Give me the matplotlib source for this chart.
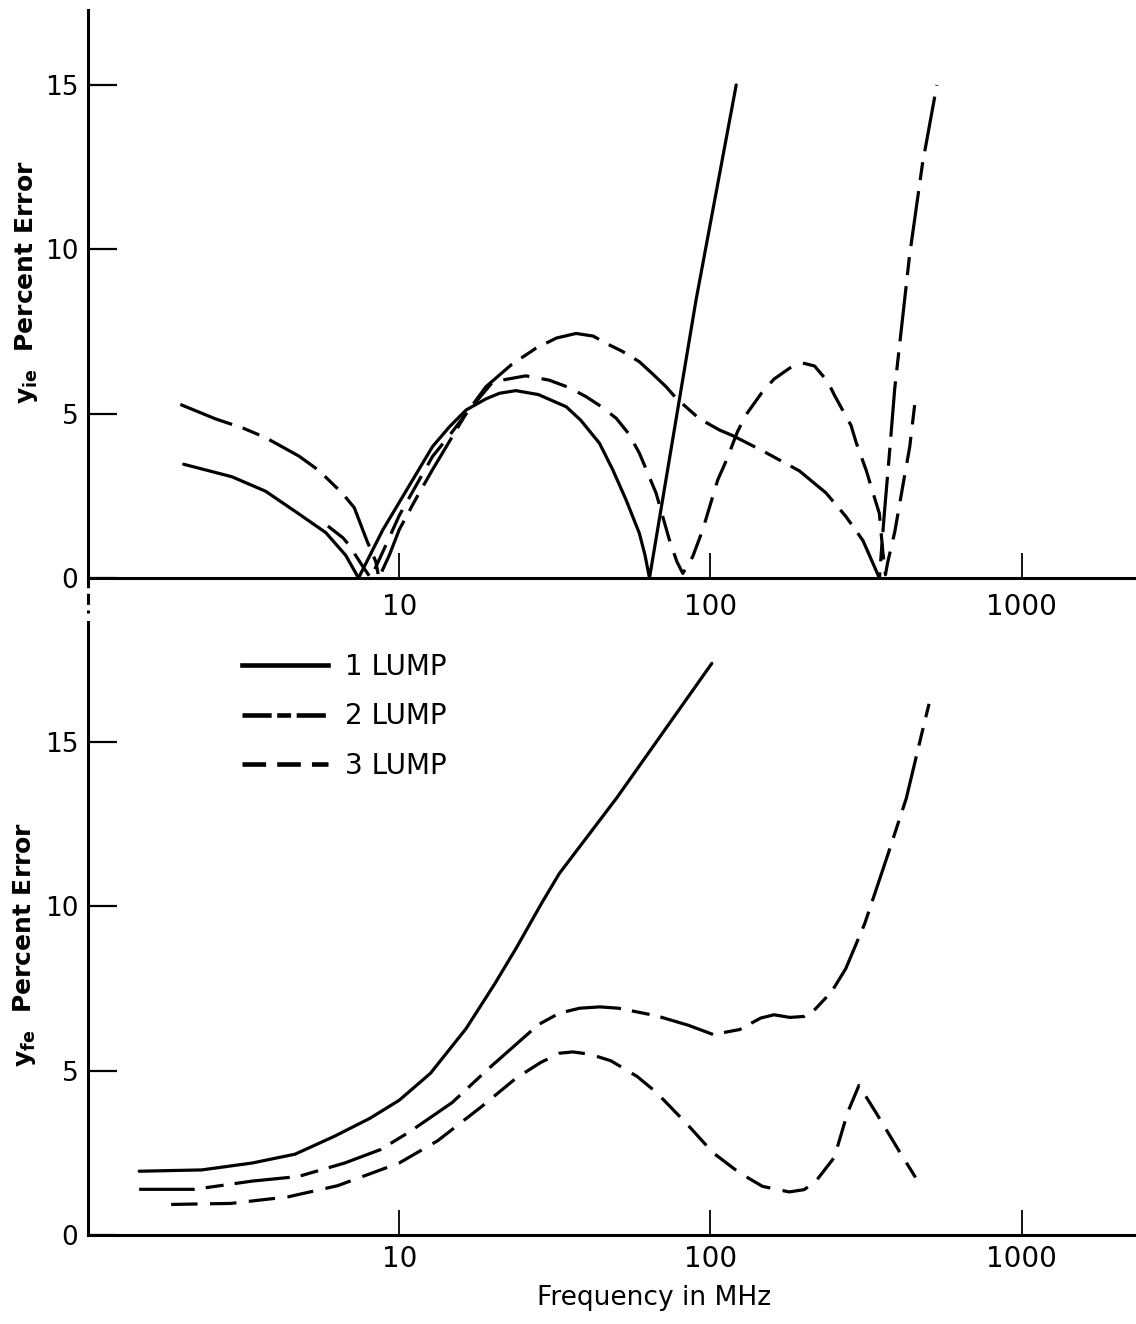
import matplotlib

matplotlib.use("Agg")
import matplotlib.pyplot as plt
from matplotlib.lines import Line2D
from matplotlib.ticker import NullLocator

plt.rcParams["font.family"] = ["DejaVu Sans"]
plt.rcParams["lines.scale_dashes"] = False

# --- data (frequency in MHz, percent error) ---
# upper panel: y_ie
f1_top = [2.03, 2.9, 3.72, 4.76, 5.81, 6.73, 7.4, 8.84, 10, 12.8, 14.5, 16.4, 19, 21, 23.7,
          28, 34.4, 38.3, 44, 48.5, 53.6, 59.1, 61.6, 63.7, 89.9, 121]
e1_top = [3.46, 3.08, 2.64, 1.95, 1.38, 0.69, 0.0, 1.45, 2.3, 4.0, 4.6, 5.11, 5.45, 5.62, 5.70,
          5.58, 5.21, 4.8, 4.10, 3.3, 2.37, 1.36, 0.7, 0.0, 8.46, 15.0]

f2_top = [1.98, 2.57, 3.15, 3.72, 4.76, 5.52, 6.56, 7.17, 7.9, 8.41, 8.6, 9.3, 10, 11.3,
          12.8, 16.4, 19, 23, 27.5, 32, 37, 42, 46.2, 52, 59.1, 65, 72, 77.6, 92, 107, 118,
          147, 193, 235, 273, 309, 349, 362, 377, 391, 436, 480, 534]
e2_top = [5.28, 4.84, 4.56, 4.27, 3.71, 3.27, 2.58, 2.14, 1.1, 0.5, 0.0, 0.7, 1.47, 2.4,
          3.3, 5.0, 5.82, 6.5, 6.99, 7.3, 7.44, 7.36, 7.14, 6.9, 6.58, 6.22, 5.82, 5.47,
          4.85, 4.5, 4.33, 3.87, 3.26, 2.59, 1.86, 1.14, 0.0, 1.96, 3.92, 5.77, 9.79, 12.6,
          15.0]

f3_top = [5.9, 6.6, 6.9, 7.7, 8.1, 9.06, 10, 11, 12.8, 14.4, 16.4, 20, 25.5, 30.3, 35, 39.8,
          44.5, 49.8, 54.5, 59.1, 66.9, 73.8, 78, 81.5, 87.7, 94.4, 105.5, 113, 122, 130, 146,
          160, 180, 198, 216, 238, 250, 283, 294, 317, 328, 349, 358, 365, 371, 391, 415,
          437, 453]
e3_top = [1.58, 1.22, 1.0, 0.3, 0.0, 1.0, 1.9, 2.6, 3.7, 4.3, 5.0, 5.97, 6.15, 6.02, 5.8,
          5.52, 5.22, 4.86, 4.4, 3.8, 2.58, 1.16, 0.5, 0.14, 0.65, 1.46, 2.98, 3.62, 4.44,
          4.96, 5.63, 6.05, 6.39, 6.54, 6.45, 5.98, 5.57, 4.64, 4.12, 3.26, 2.79, 1.96, 0.8,
          0.1, 0.47, 1.4, 2.8, 4.0, 5.26]

# lower panel: y_fe
f1_bot = [1.46, 2.32, 3.37, 4.63, 6.18, 8.05, 10, 12.6, 16.4, 20.3, 23.8, 28.7, 32.7, 50, 101]
e1_bot = [1.94, 1.98, 2.19, 2.46, 3.0, 3.55, 4.1, 4.92, 6.28, 7.65, 8.74, 10.1, 11.0, 13.3, 17.39]

f2_bot = [1.46, 2.2, 3.37, 4.74, 6.68, 8.71, 10.8, 14.8, 19.3, 23.8, 28, 32.7, 38, 44.1, 50.6,
          67, 85, 102, 124, 145, 160, 180, 200, 217, 245, 272, 313, 370, 426, 476, 504]
e2_bot = [1.39, 1.39, 1.64, 1.78, 2.19, 2.6, 3.14, 4.03, 5.05, 5.81, 6.4, 6.75, 6.9, 6.94,
          6.90, 6.67, 6.38, 6.1, 6.25, 6.6, 6.7, 6.62, 6.65, 6.87, 7.4, 8.1, 9.47, 11.52,
          13.29, 15.2, 16.16]

f3_bot = [1.85, 2.87, 4.39, 6.34, 10, 13.3, 18.3, 23.8, 28.5, 32.7, 36.1, 41, 47.9, 58.2, 67,
          83.8, 102, 124, 147, 179, 200, 217, 250, 276, 300, 340, 403, 456]
e3_bot = [0.93, 0.96, 1.16, 1.5, 2.19, 2.87, 3.89, 4.78, 5.25, 5.53, 5.57, 5.5, 5.30, 4.82,
          4.34, 3.39, 2.5, 1.89, 1.48, 1.31, 1.38, 1.61, 2.36, 3.73, 4.55, 3.73, 2.57, 1.75]

labels = ["1 LUMP", "2 LUMP", "3 LUMP"]
xticks = [10, 100, 1000]
yticks = [0, 5, 10, 15]

# line styles
LW = 2.3
DASH2 = (0, (40, 8, 13, 8))   # long-short (2 lump)
DASH3 = (0, (19, 9))          # medium dash (3 lump)

W, H = 1136, 1324
fig = plt.figure(figsize=(W / 100, H / 100), dpi=100)

ax1 = fig.add_axes([88 / W, 1 - 578 / H, (W - 88) / W, (578 - 10) / H])
ax2 = fig.add_axes([88 / W, 1 - 1235 / H, (W - 88) / W, (1235 - 622) / H])


def style_axis(ax, ytop, xpad):
    ax.set_xscale("log")
    ax.set_xlim(1.0, 2330)
    ax.set_ylim(0, ytop)
    for s in ["top", "right"]:
        ax.spines[s].set_visible(False)
    for s in ["left", "bottom"]:
        ax.spines[s].set_linewidth(2.2)
    ax.set_xticks(xticks)
    ax.set_xticklabels([str(t) for t in xticks])
    ax.xaxis.set_minor_locator(NullLocator())
    ax.set_yticks(yticks)
    ax.set_yticklabels([str(t) for t in yticks])
    ax.tick_params(axis="y", direction="in", length=21, width=1.6, pad=7, labelsize=19)
    ax.tick_params(axis="x", direction="in", length=18, width=1.3, pad=xpad, labelsize=20)


style_axis(ax1, 17.28, 11)
style_axis(ax2, 18.65, 7)

ax1.plot(f1_top, e1_top, color="k", lw=LW, solid_capstyle="round")
ax1.plot(f2_top, e2_top, color="k", lw=LW, ls=DASH2)
ax1.plot(f3_top, e3_top, color="k", lw=LW, ls=DASH3)

ax2.plot(f1_bot, e1_bot, color="k", lw=LW, solid_capstyle="round")
ax2.plot(f2_bot, e2_bot, color="k", lw=LW, ls=DASH2)
ax2.plot(f3_bot, e3_bot, color="k", lw=LW, ls=DASH3)

# broken continuation of the upper y axis below zero
ax1.plot([0, 0], [0, -1.06], transform=ax1.get_yaxis_transform(), clip_on=False,
         color="k", lw=2.2, ls=(1, (8, 4)))

handles = [
    Line2D([], [], color="k", lw=3.3),
    Line2D([], [], color="k", lw=3.3, ls=(0, (21, 4, 10, 4))),
    Line2D([], [], color="k", lw=3.3, ls=(0, (17, 8))),
]
ax2.legend(handles, labels, loc="upper left", bbox_to_anchor=(0.147, 0.95),
           frameon=False, fontsize=20, handlelength=3.1, handletextpad=0.6,
           labelspacing=0.78, borderpad=0, borderaxespad=0)

fig.text(27 / W, 1 - 282 / H, r"$\mathregular{y_{ie}}$  Percent Error", rotation=90,
         ha="center", va="center", fontsize=18, fontweight="bold")
fig.text(25 / W, 1 - 944 / H, r"$\mathregular{y_{fe}}$  Percent Error", rotation=90,
         ha="center", va="center", fontsize=18, fontweight="bold")
fig.text(654 / W, 1 - 1305 / H, "Frequency in MHz", ha="center", va="baseline",
         fontsize=19)

fig.savefig("out.png", dpi=100)
